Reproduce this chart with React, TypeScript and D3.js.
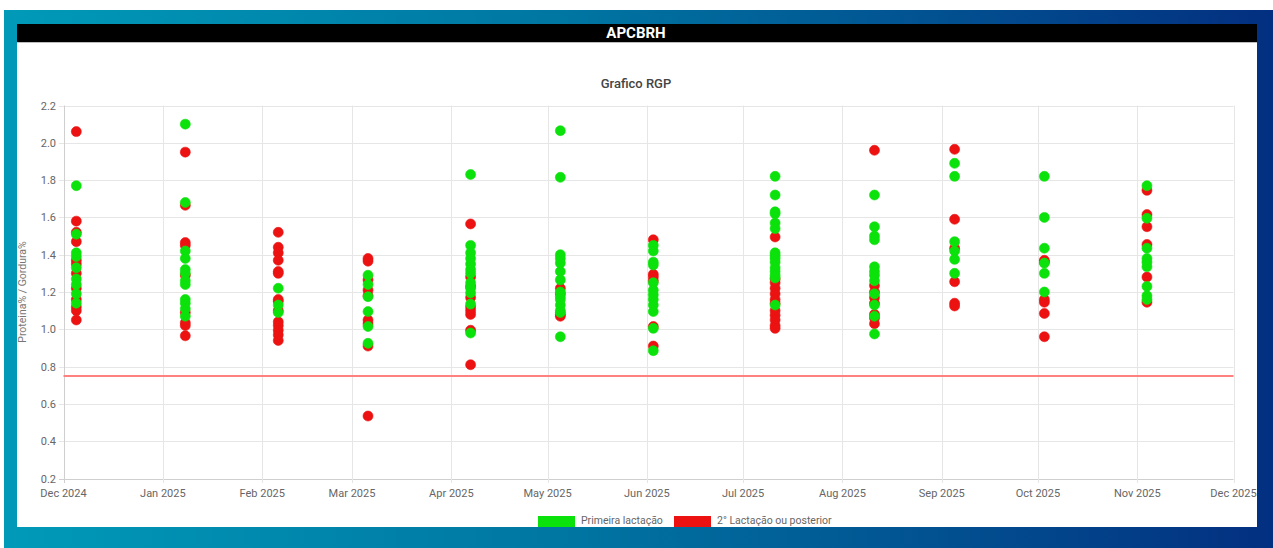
import { useEffect, useRef } from 'react';
import * as d3 from 'd3';

// sample dates (one column of dots each)
const sampleDates = [
  '2024-12-05', '2025-01-08', '2025-02-06', '2025-03-06', '2025-04-07', '2025-05-05',
  '2025-06-03', '2025-07-11', '2025-08-11', '2025-09-05', '2025-10-03', '2025-11-04',
];

// Primeira lactação, values per sample date
const primeiraLactacao = [
  [1.77, 1.51, 1.41, 1.39, 1.33, 1.27, 1.24, 1.19, 1.14],
  [2.1, 1.68, 1.42, 1.38, 1.32, 1.3, 1.26, 1.24, 1.16, 1.14, 1.11, 1.07],
  [1.22, 1.13, 1.09],
  [1.29, 1.24, 1.175, 1.095, 1.015, 0.925],
  [1.83, 1.45, 1.41, 1.38, 1.35, 1.32, 1.3, 1.25, 1.22, 1.195, 1.135, 0.98],
  [2.065, 1.815, 1.4, 1.38, 1.355, 1.31, 1.265, 1.2, 1.175, 1.16, 1.13, 1.1, 1.09, 0.96],
  [1.45, 1.42, 1.36, 1.345, 1.25, 1.21, 1.185, 1.16, 1.13, 1.095, 1.005, 0.885],
  [1.82, 1.72, 1.63, 1.62, 1.57, 1.54, 1.41, 1.395, 1.38, 1.36, 1.33, 1.31, 1.29, 1.275, 1.13],
  [1.72, 1.55, 1.5, 1.48, 1.335, 1.31, 1.29, 1.26, 1.19, 1.13, 1.07, 0.975],
  [1.89, 1.82, 1.47, 1.42, 1.375, 1.3],
  [1.82, 1.6, 1.435, 1.355, 1.3, 1.2],
  [1.77, 1.595, 1.435, 1.38, 1.36, 1.335, 1.23, 1.18, 1.16],
];

// 2° Lactação ou posterior
const segundaLactacao = [
  [2.06, 1.58, 1.52, 1.47, 1.37, 1.35, 1.3, 1.22, 1.16, 1.12, 1.1, 1.05],
  [1.95, 1.665, 1.465, 1.45, 1.29, 1.09, 1.035, 1.02, 0.965],
  [1.52, 1.44, 1.41, 1.37, 1.31, 1.3, 1.16, 1.15, 1.1, 1.04, 1.02, 0.995, 0.97, 0.94],
  [1.38, 1.365, 1.265, 1.21, 1.18, 1.05, 1.03, 0.91, 0.535],
  [1.565, 1.28, 1.23, 1.17, 1.12, 1.1, 1.08, 0.995, 0.81],
  [1.22, 1.19, 1.08, 1.07],
  [1.48, 1.295, 1.28, 1.26, 1.015, 0.91],
  [1.495, 1.27, 1.25, 1.22, 1.19, 1.16, 1.14, 1.1, 1.075, 1.05, 1.02, 1.005],
  [1.96, 1.235, 1.2, 1.17, 1.14, 1.08, 1.06, 1.03],
  [1.965, 1.59, 1.435, 1.255, 1.14, 1.125],
  [1.37, 1.36, 1.16, 1.145, 1.085, 0.96],
  [1.745, 1.615, 1.55, 1.455, 1.28, 1.145],
];

const yTicks = [0.2, 0.4, 0.6, 0.8, 1.0, 1.2, 1.4, 1.6, 1.8, 2.0, 2.2];
const limitLine = 0.75;
const legendLabels = ['Primeira lactação', '2° Lactação ou posterior'];

const GREEN = '#0be20b';
const RED = '#ec1212';

const App = () => {
  const svgRef = useRef<SVGSVGElement>(null);

  useEffect(() => {
    const width = 1273;
    const height = 548;
    d3.select(svgRef.current).selectAll('*').remove();

    const svg = d3.select(svgRef.current).attr('width', width).attr('height', height);
    const defs = svg.append('defs');

    // Background gradient frame
    const grad = defs.append('linearGradient').attr('id', 'bg-grad')
      .attr('x1', '0%').attr('y1', '0%').attr('x2', '100%').attr('y2', '0%');
    grad.append('stop').attr('offset', '0%').attr('stop-color', '#009ab8');
    grad.append('stop').attr('offset', '45%').attr('stop-color', '#0075a2');
    grad.append('stop').attr('offset', '100%').attr('stop-color', '#032f80');

    svg.append('rect').attr('width', width).attr('height', height).attr('fill', '#ffffff');
    svg.append('rect').attr('x', 4).attr('y', 10).attr('width', width - 4).attr('height', height - 10)
      .attr('fill', 'url(#bg-grad)');

    // White panel
    const panel = { x: 17, y: 24, w: 1240, h: 503 };
    defs.append('clipPath').attr('id', 'panel-clip').append('rect')
      .attr('x', panel.x).attr('y', panel.y).attr('width', panel.w).attr('height', panel.h);
    const g = svg.append('g').attr('clip-path', 'url(#panel-clip)');
    g.append('rect').attr('x', panel.x).attr('y', panel.y).attr('width', panel.w).attr('height', panel.h)
      .attr('fill', '#ffffff');

    // Header bar
    g.append('rect').attr('x', panel.x).attr('y', panel.y).attr('width', panel.w).attr('height', 18)
      .attr('fill', '#000000');
    g.append('line').attr('x1', panel.x).attr('x2', panel.x + panel.w).attr('y1', 42.5).attr('y2', 42.5)
      .attr('stroke', '#bdbdbd').attr('stroke-width', 1);
    g.append('text').attr('x', 636).attr('y', 38).attr('text-anchor', 'middle')
      .style('font-family', 'Roboto, sans-serif').style('font-weight', 700).style('font-size', '15px')
      .attr('fill', '#ffffff').text('APCBRH');

    // Chart title
    g.append('text').attr('x', 636).attr('y', 88).attr('text-anchor', 'middle')
      .style('font-family', 'Roboto, sans-serif').style('font-weight', 500).style('font-size', '13px')
      .attr('fill', '#444444').text('Grafico RGP');

    // Scales
    const parseDate = d3.timeParse('%Y-%m-%d');
    const formatMonth = d3.timeFormat('%b %Y');
    const x = d3.scaleTime()
      .domain([new Date(2024, 11, 1), new Date(2025, 11, 1)])
      .range([63.5, 1233.5]);
    const y = d3.scaleLinear().domain([0.2, 2.2]).range([478.5, 105.5]);
    const months = x.ticks(d3.timeMonth.every(1));

    const fontTick = 'Roboto, "Liberation Sans", sans-serif';

    // Grid lines
    g.append('g').selectAll('line').data(yTicks).enter().append('line')
      .attr('x1', 59).attr('x2', 1233.5)
      .attr('y1', d => Math.round(y(d)) + 0.5).attr('y2', d => Math.round(y(d)) + 0.5)
      .attr('stroke', d => (d === 0.2 ? '#cfcfcf' : '#e6e6e6')).attr('stroke-width', 1);
    g.append('g').selectAll('line').data(months).enter().append('line')
      .attr('x1', d => Math.round(x(d)) + 0.5).attr('x2', d => Math.round(x(d)) + 0.5)
      .attr('y1', 105.5).attr('y2', 483)
      .attr('stroke', (d, i) => (i === 0 ? '#cfcfcf' : '#e6e6e6')).attr('stroke-width', 1);

    // Y tick labels
    g.append('g').selectAll('text').data(yTicks).enter().append('text')
      .attr('x', 56).attr('y', d => y(d) + 4).attr('text-anchor', 'end')
      .style('font-family', fontTick).style('font-size', '11px').attr('fill', '#666666')
      .text(d => d3.format('.1f')(d));

    // X tick labels
    g.append('g').selectAll('text').data(months).enter().append('text')
      .attr('x', d => x(d)).attr('y', 497).attr('text-anchor', 'middle')
      .style('font-family', fontTick).style('font-size', '11px').attr('fill', '#666666')
      .text(d => formatMonth(d));

    // Y axis label
    g.append('text').attr('transform', 'rotate(-90)')
      .attr('x', -292).attr('y', 26).attr('text-anchor', 'middle')
      .style('font-family', fontTick).style('font-size', '10.5px').attr('fill', '#777777')
      .text('Proteina% / Gordura%');

    // Limit line
    g.append('line').attr('x1', 63.5).attr('x2', 1233.5)
      .attr('y1', y(limitLine)).attr('y2', y(limitLine))
      .attr('stroke', '#ff8080').attr('stroke-width', 2);

    // Points (second lactation below, first lactation on top)
    const flatten = (series: number[][]) =>
      series.flatMap((vals, i) => vals.map(v => ({ date: parseDate(sampleDates[i]) as Date, value: v })));

    const drawDots = (series: number[][], color: string) => {
      g.append('g').selectAll('circle').data(flatten(series)).enter().append('circle')
        .attr('cx', d => x(d.date)).attr('cy', d => y(d.value)).attr('r', 5)
        .attr('fill', color).attr('stroke', color).attr('stroke-opacity', 0.6).attr('stroke-width', 1);
    };
    drawDots(segundaLactacao, RED);
    drawDots(primeiraLactacao, GREEN);

    // Legend
    const legend = g.append('g');
    const items = [
      { label: legendLabels[0], color: GREEN, x: 538 },
      { label: legendLabels[1], color: RED, x: 674 },
    ];
    items.forEach(it => {
      legend.append('rect').attr('x', it.x).attr('y', 516).attr('width', 37).attr('height', 11)
        .attr('fill', it.color);
      legend.append('text').attr('x', it.x + 43).attr('y', 524)
        .style('font-family', fontTick).style('font-size', '10.5px').attr('fill', '#666666')
        .text(it.label);
    });
  }, []);

  return (
    <div style={{ position: 'absolute', left: 0, top: 0 }}>
      <svg ref={svgRef} style={{ display: 'block' }}></svg>
    </div>
  );
};

export default App;
